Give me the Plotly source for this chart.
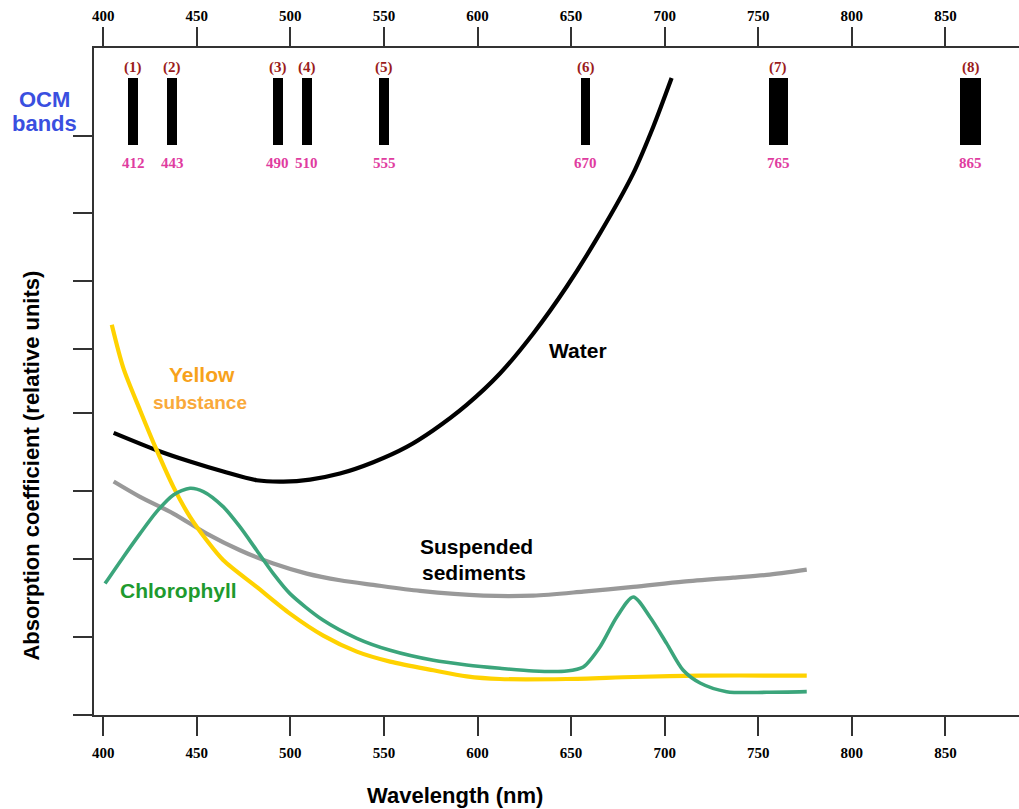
import plotly.graph_objects as go

# ---------------- data ----------------
water_x = [405.6, 428.6, 446.4, 464.2, 482.0, 496.3, 510.5, 526.5, 544.3, 562.2,
           576.4, 594.2, 612.0, 629.8, 647.6, 665.4, 683.2, 693.9, 703.7]
water_y = [4.23, 3.97, 3.80, 3.65, 3.52, 3.50, 3.53, 3.62, 3.79, 4.02,
           4.27, 4.65, 5.12, 5.72, 6.42, 7.22, 8.12, 8.82, 9.55]

yellow_x = [404.6, 410.8, 419.7, 428.6, 437.5, 446.4, 455.3, 464.2, 482.0, 499.8,
            517.6, 535.5, 553.3, 576.4, 594.2, 612.0, 647.6, 683.2, 718.9, 775.9]
yellow_y = [5.85, 5.20, 4.57, 3.97, 3.42, 2.97, 2.62, 2.32, 1.92, 1.52,
            1.19, 0.95, 0.80, 0.67, 0.58, 0.54, 0.54, 0.57, 0.59, 0.59]

chl_x = [401.0, 410.8, 419.7, 428.6, 437.5, 446.4, 453.5, 464.2, 473.1, 482.0,
         490.9, 499.8, 517.6, 535.5, 553.3, 576.4, 594.2, 612.0, 629.8, 647.6,
         656.5, 665.4, 674.4, 683.2, 692.1, 701.1, 709.9, 718.9, 733.1, 754.5, 775.9]
chl_y = [1.97, 2.37, 2.72, 3.05, 3.30, 3.40, 3.35, 3.12, 2.82, 2.47,
         2.12, 1.82, 1.42, 1.15, 0.97, 0.82, 0.75, 0.70, 0.66, 0.66,
         0.72, 1.02, 1.47, 1.77, 1.47, 1.07, 0.67, 0.48, 0.35, 0.34, 0.35]

sed_x = [405.6, 419.7, 437.5, 455.3, 473.1, 490.9, 508.8, 526.5, 544.3, 569.3,
         603.1, 629.8, 656.5, 683.2, 709.9, 736.6, 754.5, 775.9]
sed_y = [3.50, 3.27, 3.02, 2.72, 2.47, 2.27, 2.12, 2.02, 1.95, 1.86,
         1.79, 1.79, 1.85, 1.92, 2.00, 2.06, 2.10, 2.18]

band_numbers = ["(1)", "(2)", "(3)", "(4)", "(5)", "(6)", "(7)", "(8)"]
band_nominal = ["412", "443", "490", "510", "555", "670", "765", "865"]
band_drawn_nm = [416.0, 436.8, 493.4, 508.7, 550.1, 657.7, 760.8, 863.4]
band_width_nm = [5.3, 5.3, 5.3, 5.3, 5.3, 5.3, 10.4, 11.2]

x_ticks = [400, 450, 500, 550, 600, 650, 700, 750, 800, 850]
y_ticks = [0, 1.17, 2.34, 3.36, 4.53, 5.49, 6.51, 7.53, 8.68]

# ---------------- figure ----------------
X_RANGE = [395.1, 889.3]
Y_RANGE = [0, 10]

fig = go.Figure()

# OCM band rectangles
fig.add_trace(go.Bar(
    x=band_drawn_nm, y=[1.0] * len(band_drawn_nm), base=8.55,
    width=band_width_nm, marker=dict(color="black", line=dict(width=0)),
    showlegend=False, hoverinfo="skip"))

line_w = 4.2
fig.add_trace(go.Scatter(x=sed_x, y=sed_y, mode="lines", line=dict(color="#999999", width=line_w, shape="spline", smoothing=0.8), showlegend=False))
fig.add_trace(go.Scatter(x=water_x, y=water_y, mode="lines", line=dict(color="black", width=line_w, shape="spline", smoothing=0.8), showlegend=False))
fig.add_trace(go.Scatter(x=yellow_x, y=yellow_y, mode="lines", line=dict(color="#FFD200", width=line_w, shape="spline", smoothing=0.8), showlegend=False))
fig.add_trace(go.Scatter(x=chl_x, y=chl_y, mode="lines", line=dict(color="#3BA57B", width=3.6, shape="spline", smoothing=0.8), showlegend=False))
# dummy trace for top axis
fig.add_trace(go.Scatter(x=[600], y=[None], xaxis="x2", mode="lines", showlegend=False, hoverinfo="skip"))

serif = "Liberation Serif"
sans = "Liberation Sans"
tickfont = dict(family=serif, size=15, color="black")

common_x = dict(range=X_RANGE, tickvals=x_ticks, ticktext=[f"<b>{v}</b>" for v in x_ticks],
                ticks="outside", ticklen=19, tickwidth=1.5, tickcolor="#333",
                showline=True, linecolor="#333", linewidth=1.5, showgrid=False,
                zeroline=False, tickfont=tickfont)

fig.update_layout(
    width=1019, height=809,
    margin=dict(l=94, r=0, t=48, b=94),
    paper_bgcolor="white", plot_bgcolor="white",
    bargap=0,
    xaxis=dict(**common_x, side="bottom", ticklabelstandoff=4),
    xaxis2=dict(**common_x, side="top", overlaying="x", matches="x", ticklabelstandoff=0),
    yaxis=dict(range=Y_RANGE, tickvals=y_ticks, showticklabels=False,
               ticks="outside", ticklen=19, tickwidth=1.5, tickcolor="#333",
               showline=True, linecolor="#333", linewidth=1.5,
               showgrid=False, zeroline=False),
)

ann = []
# band labels
for xb, num, nom in zip(band_drawn_nm, band_numbers, band_nominal):
    ann.append(dict(x=xb, y=9.71, xref="x", yref="y", text=f"<b>{num}</b>", showarrow=False,
                    font=dict(family=serif, size=15, color="#9B1C1C")))
    ann.append(dict(x=xb, y=8.28, xref="x", yref="y", text=f"<b>{nom}</b>", showarrow=False,
                    font=dict(family=serif, size=15, color="#E03CA0")))

# curve labels
labels = [
    dict(x=653.7, y=5.47, text="<b>Water</b>", font=dict(family=sans, size=21, color="black")),
    dict(x=452.8, y=5.11, text="<b>Yellow</b>", font=dict(family=sans, size=21, color="#F7A21B")),
    dict(x=451.8, y=4.69, text="<b>substance</b>", font=dict(family=sans, size=19, color="#F9A93A")),
    dict(x=599.2, y=2.52, text="<b>Suspended</b>", font=dict(family=sans, size=21, color="black")),
    dict(x=598.1, y=2.13, text="<b>sediments</b>", font=dict(family=sans, size=21, color="black")),
    dict(x=440.0, y=1.87, text="<b>Chlorophyll</b>", font=dict(family=sans, size=21, color="#1E9A2E")),
]
for a in labels:
    a.update(xref="x", yref="y", showarrow=False)
ann += labels

# axis titles and OCM label (paper coords)
ann += [
    dict(x=0.390, y=-0.120, xref="paper", yref="paper", text="<b>Wavelength (nm)</b>", showarrow=False,
         font=dict(family=sans, size=22, color="black")),
    dict(x=-0.067, y=0.374, xref="paper", yref="paper", text="<b>Absorption coefficient (relative units)</b>",
         textangle=-90, showarrow=False, font=dict(family=sans, size=22, color="black")),
    dict(x=-0.053, y=0.9235, xref="paper", yref="paper", text="<b>OCM</b>", showarrow=False,
         font=dict(family=sans, size=22, color="#3A4FE0")),
    dict(x=-0.053, y=0.8875, xref="paper", yref="paper", text="<b>bands</b>", showarrow=False,
         font=dict(family=sans, size=22, color="#3A4FE0")),
]
for a in ann:
    a.update(xanchor="center", yanchor="middle", borderpad=0)
fig.update_layout(annotations=ann)

fig.write_html("out.html")
